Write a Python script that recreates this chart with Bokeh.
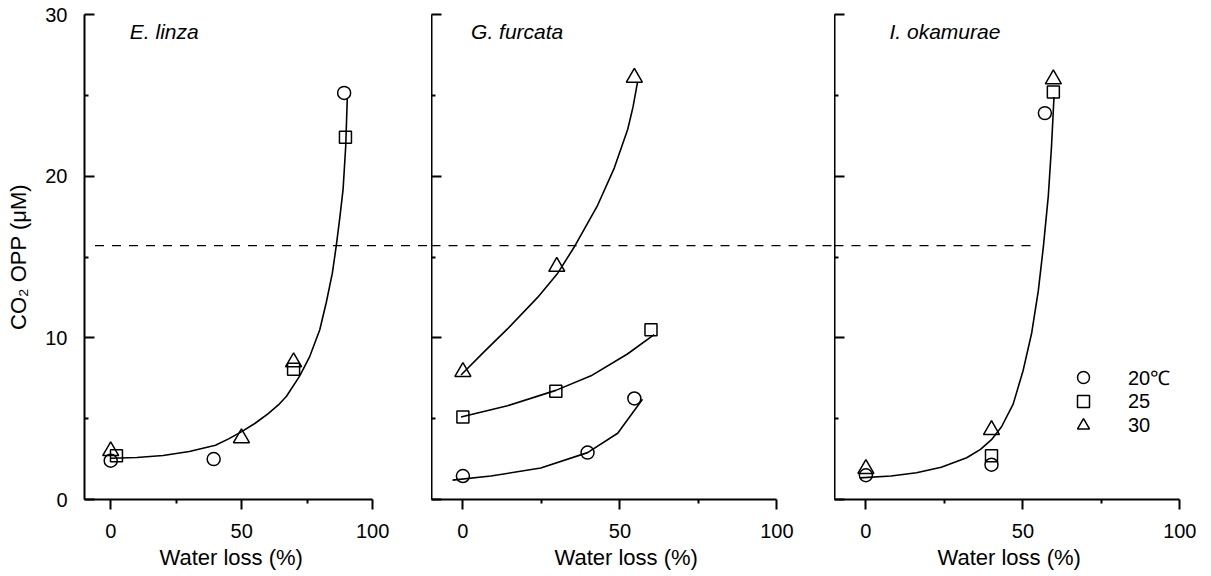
from bokeh.plotting import figure
from bokeh.layouts import row
from bokeh.models import (Range1d, FixedTicker, Label, Legend, LegendItem,
                          Title, CustomLabelingPolicy)
from bokeh.embed import file_html
from bokeh.resources import INLINE

FONT = "Liberation Sans"

# ---------------- data ----------------
species = ["E. linza", "G. furcata", "I. okamurae"]
temp_labels = ["20\u2103", "25", "30"]
y_label = "CO\u2082 OPP (\u03bcM)"
x_label = "Water loss (%)"
x_ticks = [0, 50, 100]
x_minor = [25, 75]
y_ticks = [0, 10, 20, 30]
y_minor = [5, 15, 25]
threshold = 15.7  # dashed reference level

# E. linza
el_x_20 = [0, 39.3, 89.1]
el_y_20 = [2.4, 2.5, 25.15]
el_x_25 = [2.2, 69.8, 89.6]
el_y_25 = [2.7, 8.05, 22.4]
el_x_30 = [0, 49.9, 69.8]
el_y_30 = [3.0, 3.8, 8.5]
el_fit_x = [0, 10, 20, 30, 40, 45, 50, 55, 60, 64, 67.1, 72.1, 76.0, 79.8,
            82.3, 84.6, 86.1, 87.5, 88.7, 89.7, 90.3]
el_fit_y = [2.55, 2.6, 2.72, 2.97, 3.35, 3.75, 4.2, 4.7, 5.3, 5.85, 6.39, 7.63,
            8.86, 10.5, 12.2, 14.0, 15.7, 17.5, 19.2, 21.85, 24.8]

# G. furcata
gf_x_20 = [0, 39.7, 54.6]
gf_y_20 = [1.45, 2.9, 6.25]
gf_x_25 = [0, 29.6, 59.9]
gf_y_25 = [5.1, 6.7, 10.5]
gf_x_30 = [0, 29.9, 54.6]
gf_y_30 = [7.9, 14.4, 26.1]
gf_fit20_x = [-3.3, 8.9, 24.8, 39.7, 49.3, 57.2]
gf_fit20_y = [1.2, 1.45, 1.95, 2.9, 4.1, 6.2]
gf_fit25_x = [-0.6, 14.2, 29.6, 40.8, 52.4, 60.9]
gf_fit25_y = [5.1, 5.8, 6.75, 7.65, 9.0, 10.2]
gf_fit30_x = [-0.6, 6.8, 14.2, 23.8, 30.2, 35.4, 42.9, 48.2, 52.5, 54.2, 55.6]
gf_fit30_y = [7.7, 9.15, 10.55, 12.5, 14.0, 15.6, 18.2, 20.5, 22.9, 24.3, 25.8]

# I. okamurae
io_x_20 = [0, 40, 57]
io_y_20 = [1.5, 2.15, 23.9]
io_x_25 = [40, 59.7]
io_y_25 = [2.7, 25.2]
io_x_30 = [0, 40, 59.7]
io_y_30 = [1.9, 4.3, 26.0]
io_fit_x = [-1.9, 8, 16.1, 24, 32.1, 36.5, 40.0, 43.2, 46.9, 50.1, 52.8,
            54.9, 56.5, 58.1, 59.1, 59.9]
io_fit_y = [1.34, 1.45, 1.65, 2.0, 2.58, 3.1, 3.7, 4.5, 5.9, 8.0, 10.3,
            12.9, 15.6, 18.8, 21.8, 24.9]

# ---------------- layout ----------------
FRAME_H = 485
TOP = 14
BOTTOM = 70


def make_panel(frame_width, px_per_unit, left, right, labels, xlab_offset):
    x_end = -10 + frame_width / px_per_unit
    p = figure(frame_width=frame_width, frame_height=FRAME_H,
               x_range=Range1d(-10, x_end), y_range=Range1d(0, 30),
               output_backend="svg", toolbar_location=None,
               min_border_left=left, min_border_right=right,
               min_border_top=TOP, min_border_bottom=BOTTOM,
               outline_line_color=None, background_fill_color="white",
               border_fill_color="white")
    p.grid.visible = False
    xa = p.xaxis[0]
    xa.ticker = FixedTicker(ticks=x_ticks, minor_ticks=x_minor)
    xa.bounds = (-10, 100)
    xa.axis_line_width = 2
    xa.major_tick_line_width = 2
    xa.minor_tick_line_width = 2
    xa.major_tick_in = 0
    xa.major_tick_out = 10
    xa.minor_tick_in = 0
    xa.minor_tick_out = 4
    xa.major_label_standoff = 14
    xa.major_label_text_font = FONT
    xa.major_label_text_font_size = "20px"
    xa.major_label_text_color = "black"

    ya = p.yaxis[0]
    ya.ticker = FixedTicker(ticks=y_ticks, minor_ticks=y_minor)
    ya.axis_line_width = 2
    ya.major_tick_line_width = 2
    ya.minor_tick_line_width = 2
    ya.major_tick_in = 10
    ya.major_tick_out = 0
    ya.minor_tick_in = 4
    ya.minor_tick_out = 0
    if labels:
        ya.major_label_standoff = 17
        ya.major_label_text_font = FONT
        ya.major_label_text_font_size = "20px"
        ya.major_label_text_color = "black"
        ya.axis_label = y_label
        ya.axis_label_text_font = FONT
        ya.axis_label_text_font_size = "22px"
        ya.axis_label_text_font_style = "normal"
        ya.axis_label_text_color = "black"
        ya.axis_label_standoff = 11
    else:
        ya.major_label_standoff = 0
        ya.major_label_text_font_size = "0px"
        ya.major_label_policy = CustomLabelingPolicy(code="return []")

    p.add_layout(Title(text=x_label, align="left", offset=xlab_offset,
                       text_font=FONT, text_font_size="22px",
                       text_font_style="normal", text_color="black",
                       standoff=4), "below")
    return p, x_end


def add_points(p, xs, ys, marker, size):
    return p.scatter(xs, ys, marker=marker, size=size, fill_color=None,
                     line_color="black", line_width=1.5)


def add_fit(p, xs, ys):
    p.line(xs, ys, line_color="black", line_width=1.6)


def add_title(p, text, x):
    p.add_layout(Label(x=x, y=28.95, text=text, text_font=FONT,
                       text_font_size="21px", text_font_style="italic",
                       text_baseline="middle", text_color="black"))


def add_threshold(p, x0, x1):
    p.line([x0, x1], [threshold, threshold], line_color="black",
           line_width=1.2, line_dash="9 8")


# Panel 1 : E. linza
p1, e1 = make_panel(347, 2.62, 84, 0, True, 75)
add_threshold(p1, -6, e1)
add_fit(p1, el_fit_x, el_fit_y)
add_points(p1, el_x_20, el_y_20, "circle", 13)
add_points(p1, el_x_25, el_y_25, "square", 12)
add_points(p1, el_x_30, el_y_30, "triangle", 16)
add_title(p1, species[0], 7.3)

# Panel 2 : G. furcata
p2, e2 = make_panel(403, 3.14, 0, 0, False, 123)
add_threshold(p2, -10, e2)
add_fit(p2, gf_fit20_x, gf_fit20_y)
add_fit(p2, gf_fit25_x, gf_fit25_y)
add_fit(p2, gf_fit30_x, gf_fit30_y)
add_points(p2, gf_x_20, gf_y_20, "circle", 13)
add_points(p2, gf_x_25, gf_y_25, "square", 12)
add_points(p2, gf_x_30, gf_y_30, "triangle", 16)
add_title(p2, species[1], 2.6)

# Panel 3 : I. okamurae
p3, e3 = make_panel(346, 3.14, 0, 16, False, 103)
add_threshold(p3, -10, 54.8)
add_fit(p3, io_fit_x, io_fit_y)
r20 = add_points(p3, io_x_20, io_y_20, "circle", 13)
r25 = add_points(p3, io_x_25, io_y_25, "square", 12)
r30 = add_points(p3, io_x_30, io_y_30, "triangle", 16)
add_title(p3, species[2], 7.5)

# legend: one entry per box so the rows can sit 24 px apart with 12 px icons
for lab, rend, ybot in zip(temp_labels, [r20, r25, r30], [107, 83, 59]):
    p3.add_layout(Legend(items=[LegendItem(label=lab, renderers=[rend])],
                         location=(234, ybot), orientation="vertical",
                         glyph_width=30, glyph_height=30, label_height=30,
                         padding=0, margin=0, label_standoff=30,
                         border_line_color=None, background_fill_alpha=0,
                         label_text_font=FONT, label_text_font_size="20px",
                         label_text_color="black"))

layout = row(p1, p2, p3, spacing=0)
open("out.html", "w").write(file_html(layout, INLINE))
